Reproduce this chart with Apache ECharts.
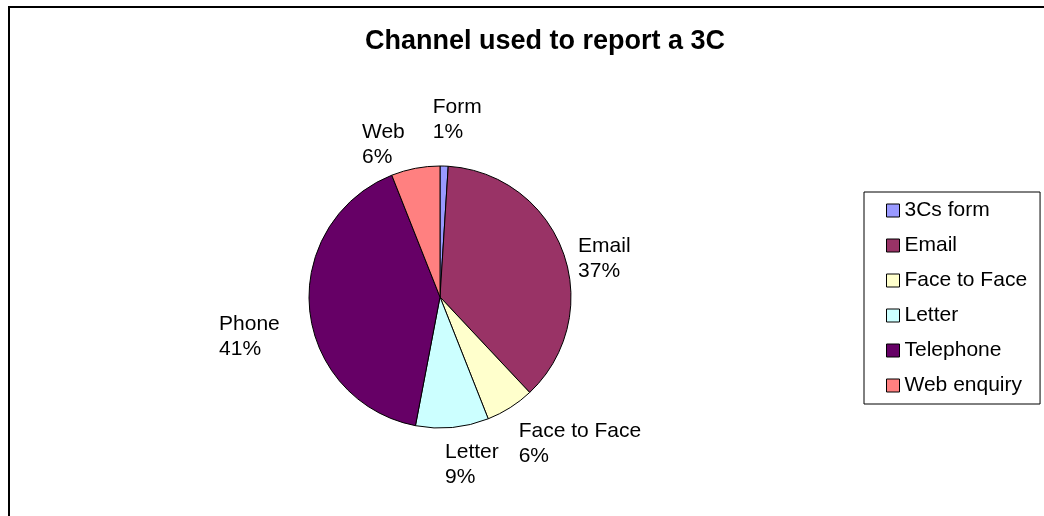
<!DOCTYPE html>
<html>
<head>
<meta charset="utf-8">
<script src="https://cdn.jsdelivr.net/npm/echarts@6/dist/echarts.min.js"></script>
<style>
  html, body { margin: 0; padding: 0; background: #fff; }
  #Pie { width: 1044px; height: 516px; }
</style>
</head>
<body>
<div id="Pie"></div>
<script>
// 图表数据
var legendNames = ['3Cs form', 'Email', 'Face to Face', 'Letter', 'Telephone', 'Web enquiry'];
var sliceLabels = ['Form', 'Email', 'Face to Face', 'Letter', 'Phone', 'Web'];
var shares = [1, 37, 6, 9, 41, 6];
var sliceColors = ['#9999FF', '#993366', '#FFFFCC', '#CCFFFF', '#660066', '#FF8080'];

// 标签微调(像Excel那样放在饼外)
var labelNudge = [[12, -10], [6, 18], [31, 6], [16, 1], [-19, 24], [-26, 12]];

var pieCenter = [440, 297];
var pieRadius = 131;

function PieChart() {
    var myChart = echarts.init(document.getElementById('Pie'));
    var fontName = '"Liberation Sans", Arial, sans-serif';
    var total = 0;
    for (var k = 0; k < shares.length; k++) total += shares[k];

    // 每个扇区的中间角度(数学角度, 从12点顺时针)
    function midAngle(idx) {
        var before = 0;
        for (var i = 0; i < idx; i++) before += shares[i];
        var frac = (before + shares[idx] / 2) / total;
        return (90 - frac * 360) * Math.PI / 180;
    }

    var option = {
        animation: false,
        title: {
            text: 'Channel used to report a 3C',
            left: 540,
            top: 23,
            textAlign: 'center',
            textStyle: { fontFamily: fontName, fontSize: 27, fontWeight: 'bold', color: '#000' }
        },
        legend: {
            orient: 'vertical',
            left: 864,
            top: 192,
            data: legendNames,
            icon: 'rect',
            itemWidth: 13,
            itemHeight: 13,
            itemGap: 14,
            itemTextGap: 7,
            borderColor: '#000',
            borderWidth: 1,
            padding: [8, 13, 8, 22],
            textStyle: { fontFamily: fontName, fontSize: 21, lineHeight: 21, color: '#000' },
            itemStyle: { borderColor: '#000', borderWidth: 1 }
        },
        graphic: [{
            type: 'rect',
            shape: { x: 9, y: 7, width: 1100, height: 600 },
            style: { fill: 'none', stroke: '#000', lineWidth: 2 },
            silent: true
        }],
        series: [{
            type: 'pie',
            center: pieCenter,
            radius: pieRadius,
            startAngle: 90,
            clockwise: true,
            avoidLabelOverlap: false,
            itemStyle: { borderColor: '#000', borderWidth: 1 },
            label: {
                show: true,
                position: 'outside',
                fontFamily: fontName,
                fontSize: 21,
                color: '#000',
                lineHeight: 25,
                formatter: function (p) {
                    return sliceLabels[p.dataIndex] + '\n' + shares[p.dataIndex] + '%';
                }
            },
            labelLine: { show: false },
            labelLayout: function (params) {
                var i = params.dataIndex;
                var a = midAngle(i);
                var c = Math.cos(a), s = Math.sin(a);
                var d = pieRadius + 11;
                var ax = pieCenter[0] + d * c;
                var ay = pieCenter[1] - d * s;
                var w = params.labelRect.width, h = params.labelRect.height;
                return {
                    x: ax - w * (1 - c) / 2 + labelNudge[i][0],
                    y: ay - h * (1 + s) / 2 + labelNudge[i][1],
                    align: 'left',
                    verticalAlign: 'top'
                };
            },
            data: (function () {
                var data = [];
                for (var i = 0; i < shares.length; i++) {
                    data.push({
                        name: legendNames[i],
                        value: shares[i],
                        itemStyle: { color: sliceColors[i] }
                    });
                }
                return data;
            })()
        }]
    };
    myChart.setOption(option);
}
PieChart();
</script>
</body>
</html>
